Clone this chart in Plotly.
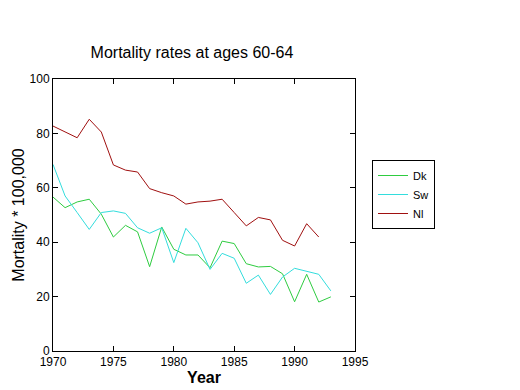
import plotly.graph_objects as go

years = list(range(1970, 1994))
dk = [56.6, 52.7, 54.8, 55.8, 50.3, 41.9, 46.2, 43.8, 31.0, 45.6, 37.4, 35.3,
      35.3, 30.6, 40.4, 39.5, 32.1, 30.9, 31.1, 28.4, 18.1, 28.2, 18.0, 19.9]
sw = [68.6, 57.0, 50.9, 44.7, 50.9, 51.5, 50.6, 45.3, 43.3, 45.3, 32.5, 45.1,
      39.8, 30.0, 35.9, 34.1, 24.9, 27.9, 20.8, 27.2, 30.4, 29.4, 28.2, 22.1]
nl_years = list(range(1970, 1993))
nl = [82.7, 80.6, 78.4, 85.2, 80.5, 68.4, 66.5, 65.8, 59.7, 58.2, 57.0, 54.0,
      54.8, 55.1, 55.8, 50.9, 46.0, 49.1, 48.2, 40.7, 38.6, 46.8, 41.9]

font = "Liberation Sans, Arial, sans-serif"

fig = go.Figure()
fig.add_trace(go.Scatter(x=years, y=dk, mode="lines", name="Dk",
                         line=dict(color="#2ecc40", width=1)))
fig.add_trace(go.Scatter(x=years, y=sw, mode="lines", name="Sw",
                         line=dict(color="#33dddd", width=1)))
fig.add_trace(go.Scatter(x=nl_years, y=nl, mode="lines", name="Nl",
                         line=dict(color="#a01010", width=1)))

axis_common = dict(showgrid=False, zeroline=False, showline=True, linecolor="black",
                   linewidth=1, mirror="ticks", ticks="inside", ticklen=5,
                   tickcolor="black", automargin=False,
                   tickfont=dict(family=font, size=12, color="black"))

L, R, T, B = 53, 355, 79, 351
W, H = 520, 390

fig.update_layout(
    width=W, height=H,
    margin=dict(l=L, r=W - R, t=T, b=H - B),
    paper_bgcolor="white", plot_bgcolor="white",
    title=dict(text="Mortality rates at ages 60-64", x=192 / W, xanchor="center",
               y=1 - 52 / H, yanchor="middle",
               font=dict(family=font, size=16, color="black")),
    xaxis=dict(range=[1970, 1995], tickvals=[1970, 1975, 1980, 1985, 1990, 1995],
               title=dict(text="<b>Year</b>", font=dict(family=font, size=16, color="black"),
                          standoff=3),
               **axis_common),
    yaxis=dict(range=[0, 100], tickvals=[0, 20, 40, 60, 80, 100],
               title=dict(text="Mortality * 100,000",
                          font=dict(family=font, size=16, color="black"), standoff=0),
               **axis_common),
    legend=dict(x=(372 - L) / (R - L), y=(B - 160) / (B - T), xanchor="left", yanchor="top",
                bordercolor="black", borderwidth=1, bgcolor="white",
                font=dict(family=font, size=11, color="black"),
                tracegroupgap=0, itemwidth=30),
    showlegend=True,
)

fig.write_html("out.html", config={"displayModeBar": False},
               post_script="document.body.style.margin='0';")
